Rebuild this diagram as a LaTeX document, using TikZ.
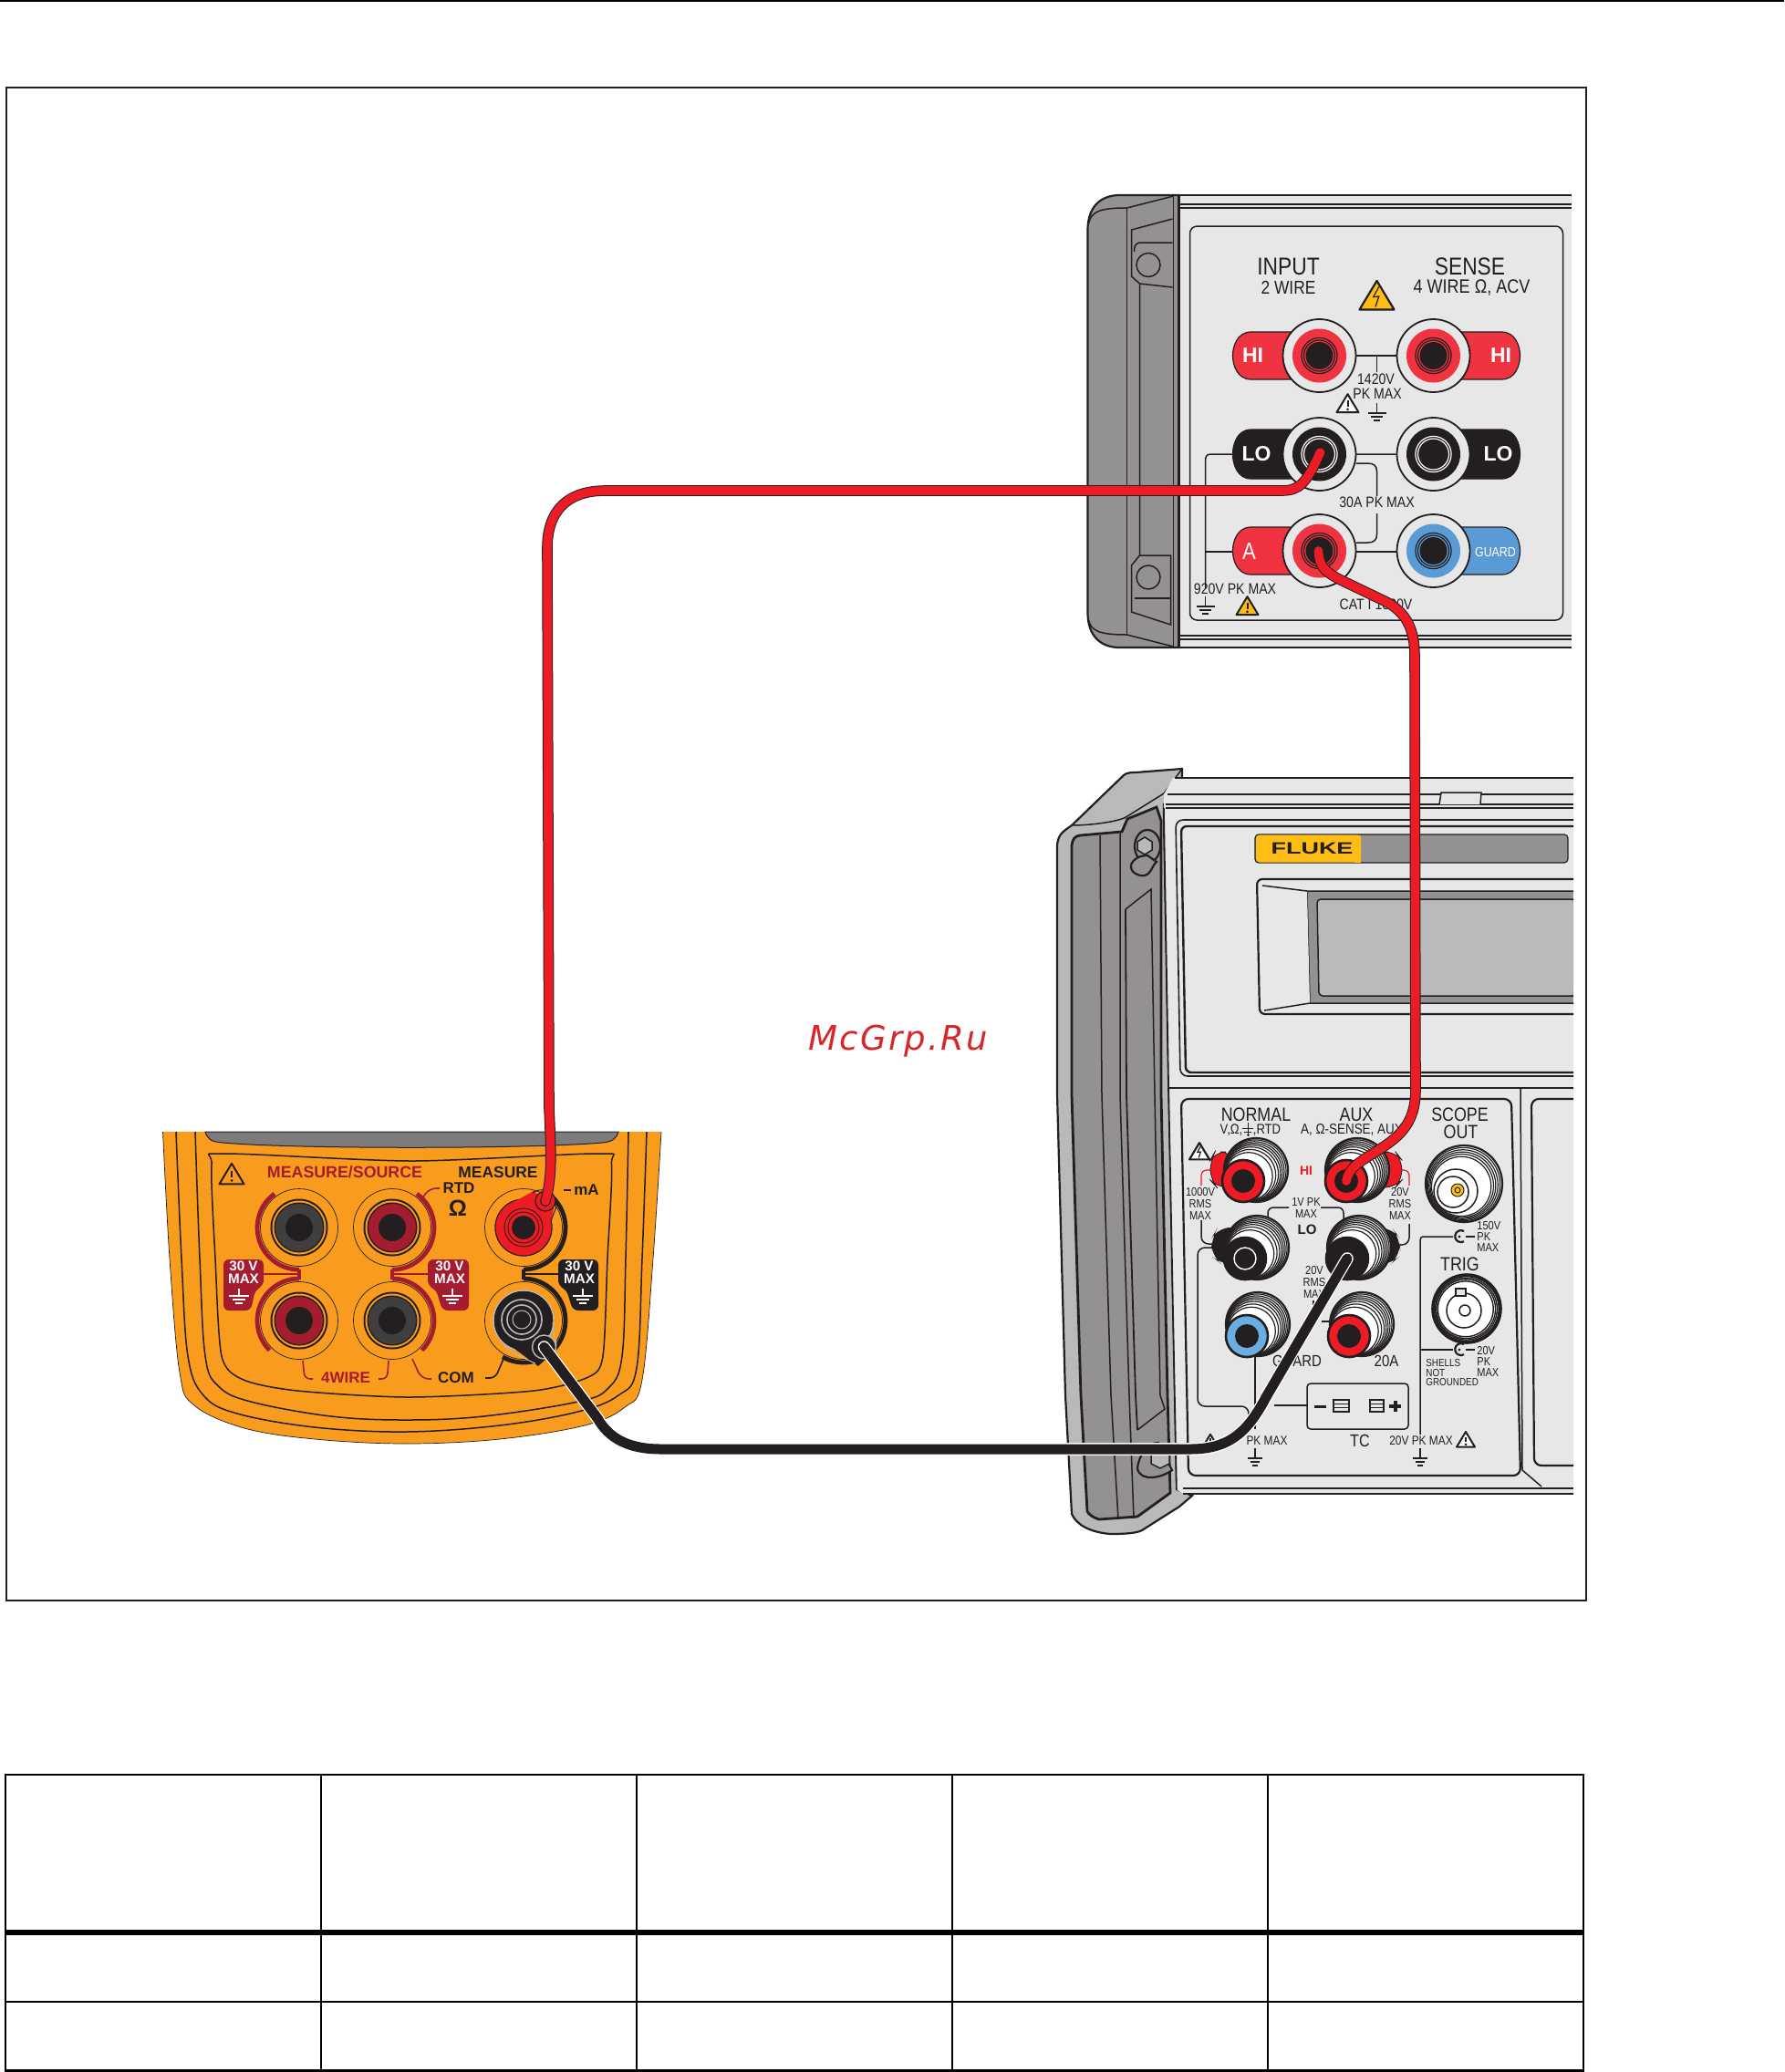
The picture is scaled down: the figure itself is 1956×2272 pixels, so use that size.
\documentclass[tikz,border=0pt]{standalone}
\usepackage{fontspec}
\setmainfont{Liberation Sans}
\newfontfamily\cnd[FakeStretch=0.85]{Liberation Sans}
\newfontfamily\wmk[LetterSpace=6]{DejaVu Sans}
\newfontfamily\wide[FakeStretch=1.5]{Liberation Sans}
\usetikzlibrary{calc}
\definecolor{pg}{HTML}{E7E7E8}
\definecolor{hg}{HTML}{939192}
\definecolor{lg}{HTML}{B9B9B9}
\definecolor{wr}{HTML}{ED1C24}
\definecolor{tr}{HTML}{EF3340}
\definecolor{bk}{HTML}{231F20}
\definecolor{bl}{HTML}{5B9BD5}
\definecolor{bl2}{HTML}{6CADE1}
\definecolor{og}{HTML}{F99B1C}
\definecolor{dr}{HTML}{A51C30}
\definecolor{yl}{HTML}{FDBD14}
\definecolor{dg}{HTML}{403F40}
\newcounter{lc}
\newcommand\lbl[5][bk]{\stepcounter{lc}\node[name=L\arabic{lc},inner sep=0,outer sep=0,align=center,text=#1,font=\cnd\fontsize{#4}{#4}\selectfont] at (#2,#3) {#5};}
\newcommand\lbb[5][bk]{\stepcounter{lc}\node[name=L\arabic{lc},inner sep=0,outer sep=0,align=center,text=#1,font=\rmfamily\bfseries\fontsize{#4}{#4}\selectfont] at (#2,#3) {#5};}
% ground symbol: x, y of top bar, width, colour
\newcommand\gnd[4]{\draw[#4,line width=.65pt] ({#1-#3/2},#2) -- ({#1+#3/2},#2) ({#1-#3*.32},{#2+4}) -- ({#1+#3*.32},{#2+4}) ({#1-#3*.16},{#2+8}) -- ({#1+#3*.16},{#2+8});}
% warning triangle: x,y,width,fill
\newcommand\wtri[4]{\draw[bk,fill=#4,line width=1pt,line join=round] (#1,{#2-#3*.45}) -- ({#1+#3*.5},{#2+#3*.38}) -- ({#1-#3*.5},{#2+#3*.38}) -- cycle;
 \draw[bk,line width=1pt] (#1,{#2-#3*.16}) -- (#1,{#2+#3*.12}); \fill[bk] (#1,{#2+#3*.24}) circle[radius=1.5];}
\newcommand\wshock[4]{\draw[bk,fill=#4,line width=1.1pt,line join=round] (#1,{#2-#3*.45}) -- ({#1+#3*.5},{#2+#3*.38}) -- ({#1-#3*.5},{#2+#3*.38}) -- cycle;
 \draw[bk,line width=.6pt,line join=miter] ({#1+#3*.06},{#2-#3*.28}) -- ({#1-#3*.1},{#2+#3*.02}) -- ({#1+#3*.06},{#2+#3*.0}) -- ({#1-#3*.04},{#2+#3*.3});}
% tab of bench meter: cx cy dir half-height colour
\newcommand\jtab[5]{\draw[bk,fill=#5,line width=.6pt] (#1,{#2-#4}) -- ({#1+#3*75},{#2-#4}) .. controls ({#1+#3*90},{#2-#4}) and ({#1+#3*95},{#2-#4*.4}) .. ({#1+#3*95},#2) .. controls ({#1+#3*95},{#2+#4*.4}) and ({#1+#3*90},{#2+#4}) .. ({#1+#3*75},{#2+#4}) -- (#1,{#2+#4});}
% bench jack: x y face inner-ring colour
\newcommand\mjack[4]{\draw[bk,fill=pg,line width=.9pt] (#1,#2) circle[radius=40];
 \fill[#3] (#1,#2) circle[radius=29.5];
 \draw[#4,line width=.6pt] (#1,#2) circle[radius=19.6] (#1,#2) circle[radius=17];
 \fill[bk] (#1,#2) circle[radius=15];}
% binding post: face x,y body x,y face colour
\newcommand\bpost[5]{\draw[bk,fill=white,line width=1.1pt] (#3,#4) circle[radius=35];
 \foreach \t in {.07,.14,.21,.28,.36,.46,.58}{\draw[bk,fill=white,line width=.6pt] ({#3+(#1-#3)*\t},{#4+(#2-#4)*\t}) circle[radius={35-15*\t}];}
 \draw[bk,fill=#5,line width=1.3pt] (#1,#2) circle[radius=23];}
% handheld jack
\newcommand\ojack[3]{\draw[bk,fill=og,line width=.35pt] (#1,#2) circle[radius=42.5];
 \fill[bk] (#1,#2) circle[radius=31.5]; \fill[og] (#1,#2) circle[radius=29.5];
 \fill[bk] (#1,#2) circle[radius=27.5]; \fill[#3] (#1,#2) circle[radius=26];
 \fill[bk] (#1,#2) circle[radius=15];}
\begin{document}
\begin{tikzpicture}[x=.5pt,y=-.5pt]
\useasboundingbox (0,0) rectangle (1956,2272);
\tikzset{thin1/.style={bk,line width=.5pt},line1/.style={bk,line width=.75pt},thick1/.style={bk,line width=1.1pt}}
% page rule, frame, table
\draw[black,line width=1.1pt] (0,1) -- (1956,1);
\draw[bk,line width=1.25pt] (7,96) rectangle (1739,1755);
\draw[black,line width=1.4pt] (6,1946) rectangle (1736,2270.5);
\draw[black,line width=1.4pt] (6,2195) -- (1736,2195);
\draw[black,line width=2.9pt] (6,2118.7) -- (1736,2118.7);
\foreach \cx in {352,698,1044,1390}{\draw[black,line width=1.4pt] (\cx,1946) -- (\cx,2270.5);}
% ================= top bench meter
\begin{scope}[xshift=.75pt]
\draw[thick1,fill=hg] (1291,214) -- (1226,214) .. controls (1204,214) and (1191,228) .. (1191,252) -- (1191,672) .. controls (1191,696) and (1204,710) .. (1226,710) -- (1291,710) -- cycle;
\draw[line1] (1192,245) .. controls (1195,232) and (1204,228) .. (1234,228) -- (1285,215);
\draw[line1] (1192,680) .. controls (1195,692) and (1204,696) .. (1234,696) -- (1285,709);
\draw[line1] (1234,228) -- (1234,696) (1285,214) -- (1285,710);
\draw[line1] (1284,240) -- (1239,252) -- (1239,303) -- (1248,311) -- (1284,315);
\draw[line1] (1284,266) -- (1250,266) .. controls (1243,266) and (1242,270) .. (1242,276);
\draw[line1] (1248,311) -- (1248,609) -- (1282,609) -- (1282,685) -- (1239,671) -- (1239,620) -- (1248,609);
\draw[line1] (1242,656) -- (1282,656);
\draw[line1] (1257.5,290.5) circle[radius=13];
\draw[line1] (1257.5,633) circle[radius=13];
\fill[pg] (1291,214) rectangle (1721,710);
\draw[thick1] (1291,214) -- (1721,214) (1291,710) -- (1721,710) (1291,214) -- (1291,710);
\draw[line1] (1291,224) -- (1721,224) (1291,228) -- (1721,228) (1291,697) -- (1721,697) (1291,701) -- (1721,701);
\draw[line1,rounded corners=4pt] (1303,248) rectangle (1712,680);
\lbl{1411}{292}{13.4}{INPUT}
\lbl{1411}{315}{10.2}{2 WIRE}
\lbl{1610}{292}{13.4}{SENSE}
\lbl{1612}{315}{10.6}{4 WIRE Ω, ACV}
\wshock{1508}{325}{38}{yl}
% traces
\draw[line1] (1485,390) -- (1530,390) (1508,390) -- (1508,408);
\lbl{1507}{416}{8.3}{1420V}
\lbl{1508.5}{432}{8.3}{PK MAX}
\wtri{1476}{443}{24}{white}
\draw[line1] (1508,442) -- (1508,453); \gnd{1508}{453}{20}{bk}
\draw[line1] (1485,498) -- (1529,498) (1351,498) -- (1326,498) .. controls (1321,498) and (1320,501) .. (1320,506) -- (1320,645);
\draw[line1] (1485,508) -- (1498,508) .. controls (1505,508) and (1508,511) .. (1508,517) -- (1508,544);
\lbl{1508}{551}{8.3}{30A PK MAX}
\draw[line1] (1508,563) -- (1508,586) .. controls (1508,592) and (1505,595) .. (1498,595) -- (1485,595);
\draw[line1] (1485,605) -- (1529,605) (1320,605) -- (1351,605);
\lbl{1352.5}{646}{8.3}{920V PK MAX}
\draw[line1] (1320,654) -- (1320,665); \gnd{1320}{665}{20}{bk}
\wtri{1366}{665}{24}{yl}
\lbl{1507}{663}{8.3}{CAT I 1000V}
% jacks
\jtab{1445}{390}{-1}{26}{tr}
\jtab{1570}{390}{1}{26}{tr}
\jtab{1445}{498}{-1}{27}{bk}
\jtab{1570}{498}{1}{27}{bk}
\jtab{1445}{604}{-1}{26}{tr}
\jtab{1570}{604}{1}{26}{bl}
\mjack{1445}{390}{tr}{bk}
\mjack{1570}{390}{tr}{bk}
\mjack{1445}{498}{bk}{white}
\mjack{1570}{498}{bk}{white}
\mjack{1445}{604}{tr}{bk}
\mjack{1570}{604}{bl}{bk}
\lbb[white]{1372}{390}{11.5}{HI}
\lbb[white]{1644}{390}{11.5}{HI}
\lbb[white]{1376}{498}{11.5}{LO}
\lbb[white]{1641}{498}{11.5}{LO}
\lbl[white]{1368}{605}{13}{A}
\lbl[white]{1638}{605}{7.3}{GUARD}
\coordinate (jackLO) at (1446,496);
\coordinate (jackA) at (1444,604);
\end{scope}
% ================= lower bench meter: handle
\draw[thick1,fill=lg] (1159,927) .. controls (1160,915) and (1165,912) .. (1175,905) -- (1232,850) .. controls (1236,847) and (1240,847) .. (1245,847) -- (1296,843) -- (1296,855) -- (1276,882) -- (1276,900) -- (1281,1180) -- (1290,1633) -- (1307,1640) -- (1293,1652) -- (1252,1678) .. controls (1245,1682) and (1225,1682) .. (1217,1682) .. controls (1195,1680) and (1180,1672) .. (1175,1660) -- (1168,1530) -- (1159,1200) -- cycle;
\draw[line width=1.4pt,bk,fill=hg] (1175,927) .. controls (1176,920) and (1178,917) .. (1184,916) -- (1230,912) -- (1236,898) -- (1268,885) -- (1273,900) -- (1273,1200) -- (1280,1530) -- (1283,1637) -- (1247,1663) -- (1205,1666) .. controls (1198,1664) and (1193,1660) .. (1192,1657) -- (1185,1530) -- (1175,1200) -- cycle;
\draw[line1] (1206,916) -- (1208,1200) -- (1218,1530) -- (1226,1666);
\draw[line1] (1228,914) -- (1228,1200) -- (1238,1530) -- (1243,1665);
\draw[line width=.9pt,bk] (1234,997) -- (1235,1200) -- (1245,1530) -- (1247,1568);
\draw[line1] (1234,997) -- (1262,975) -- (1266,1200) -- (1272,1530) -- (1277,1545) -- (1247,1568);
\draw[line1] (1236,895) -- (1276,870);
\draw[line1] (1174,905) .. controls (1200,905) and (1230,900) .. (1236,895) (1296,843) -- (1276,870);
\draw[thick1,fill=hg] (1258,928) ellipse[x radius=14,y radius=18];
\draw[line1,fill=lg] (1255,918) -- (1263,923) -- (1263,932) -- (1255,937) -- (1247,932) -- (1247,923) -- cycle;
\draw[thick1,fill=hg] (1250,960) .. controls (1262,962) and (1262,950) .. (1268,945) -- (1258,938) .. controls (1240,938) and (1232,955) .. (1250,960);
\draw[thick1,fill=hg] (1247,1610) .. controls (1250,1626) and (1275,1620) .. (1285,1612) -- (1270,1582) .. controls (1255,1582) and (1248,1600) .. (1247,1610);
\draw[line1,fill=lg] (1272,1590) -- (1282,1595) -- (1282,1605) -- (1272,1610) -- (1262,1605) -- (1262,1595) -- cycle;
% body
\fill[pg] (1286,853) -- (1725,853) -- (1725,1638) -- (1297,1638) -- (1290,1633) -- (1281,1180) -- (1276,890) -- (1276,871) -- cycle;
\draw[line1] (1288,853) -- (1725,853) (1280,871) -- (1725,871) (1278,886) -- (1725,886);
\draw[line width=1pt,bk] (1278,882) -- (1725,882);
\draw[line1,fill=pg] (1578,882) -- (1580,869) -- (1624,869) -- (1623,882);
\draw[line1] (1276,886) -- (1281,1180) -- (1290,1633);
\draw[line1] (1281,1193) -- (1725,1193) (1297,1632) -- (1725,1632) (1297,1638) -- (1725,1638);
% display panel
\draw[line width=.8pt,bk,rounded corners=4pt] (1725,899) -- (1289,899) -- (1294,1180) -- (1725,1180);
\draw[line width=1.2pt,bk,rounded corners=3pt] (1725,906) -- (1295,906) -- (1300,1176) -- (1725,1176);
\draw[line width=.6pt,bk,fill=hg,rounded corners=2pt] (1376,915) rectangle (1719,946);
\fill[yl,rounded corners=2pt] (1377,915.5) rectangle (1492,945.5);
\fill[yl] (1485,915.5) rectangle (1492,945.5);
\stepcounter{lc}\node[name=L\arabic{lc},inner sep=0,text=bk,font=\wide\bfseries\fontsize{9}{9}\selectfont] at (1438.5,930) {FLUKE};
\fill[hg] (1433,977) rectangle (1725,1100);
\fill[lg,rounded corners=3pt] (1444,986) -- (1725,986) -- (1725,1092) -- (1446,1092) -- cycle;
\draw[line1,rounded corners=2pt] (1725,986) -- (1444,986) -- (1446,1092) -- (1725,1092);
\draw[line1] (1433,977) -- (1725,977) (1433,977) -- (1436,1100) -- (1725,1100);
\fill[pg] (1384,967) -- (1433,977) -- (1436,1100) -- (1386,1108) -- cycle;
\draw[line1] (1384,971) -- (1433,977) (1386,1108) -- (1436,1100);
\draw[thick1,rounded corners=3pt] (1725,964) -- (1378,964) -- (1381,1112) -- (1725,1112);
% lower panel
\draw[thick1,rounded corners=4pt] (1295,1205) -- (1657,1205) -- (1667,1618) -- (1303,1618) -- cycle;
\draw[line1] (1667,1193) -- (1669,1612) -- (1690,1630);
\draw[thick1,rounded corners=4pt] (1725,1205) -- (1679,1205) -- (1682,1607) -- (1725,1607);
% lower panel labels
\lbl{1377}{1222}{10.5}{NORMAL}
\lbl{1350}{1239}{7.7}{V,Ω,}
\draw[thin1] (1368,1231) -- (1368,1246); \draw[thin1] (1362,1237.5) -- (1374,1237.5) (1364,1241) -- (1372,1241) (1366.5,1244.5) -- (1369.5,1244.5);
\lbl{1389}{1239}{7.7}{,RTD}
\lbl{1487}{1222}{10.5}{AUX}
\lbl{1482}{1239}{7.9}{A, Ω-SENSE, AUX}
\lbl{1600.5}{1222}{10.5}{SCOPE}
\lbl{1601.5}{1241}{10.5}{OUT}
\lbb[wr]{1432}{1284}{7}{HI}
\lbb{1433}{1348}{7.5}{LO}
\lbl{1316}{1320}{6.5}{1000V\\RMS\\MAX}
\lbl{1535}{1320}{6.5}{20V\\RMS\\MAX}
\lbl{1432}{1324.5}{6.5}{1V PK\\MAX}
\lbl{1441}{1406}{6.5}{20V\\RMS\\MAX}
\lbl{1422}{1492}{8.8}{GUARD}
\lbl{1520}{1492}{8.8}{20A}
\lbl{1491}{1580}{9.5}{TC}
\lbl{1389}{1580}{7}{PK MAX}
\lbl{1558}{1580}{7}{20V PK MAX}
\lbl{1600.5}{1386}{10.5}{TRIG}
\stepcounter{lc}\node[name=L\arabic{lc},anchor=west,inner sep=0,align=left,text=bk,font=\cnd\fontsize{6.5}{6.2}\selectfont] at (1619,1356) {150V\\PK\\MAX};
\stepcounter{lc}\node[name=L\arabic{lc},anchor=west,inner sep=0,align=left,text=bk,font=\cnd\fontsize{6.5}{6.2}\selectfont] at (1619,1493) {20V\\PK\\MAX};
\stepcounter{lc}\node[name=L\arabic{lc},anchor=west,inner sep=0,align=left,text=bk,font=\cnd\fontsize{5.8}{5.2}\selectfont] at (1563,1505) {SHELLS\\NOT\\GROUNDED};
% traces
\draw[wr,line width=.6pt,rounded corners=3pt] (1317,1300) -- (1317,1283) -- (1330,1283);
\draw[wr,line width=.6pt,rounded corners=3pt] (1545,1300) -- (1545,1283) -- (1530,1283);
\draw[line1,rounded corners=4pt] (1317,1338) -- (1317,1364) -- (1332,1364);
\draw[line1,rounded corners=4pt] (1545,1342) -- (1545,1365) -- (1530,1365);
\draw[line1,rounded corners=3pt] (1390,1336) -- (1390,1324) -- (1413,1324);
\draw[line1,rounded corners=3pt] (1448,1324) -- (1473,1324) -- (1473,1338);
\draw[line1] (1449,1449) -- (1460,1449);
\draw[line1] (1440,1426) -- (1440,1436);
\draw[line1,rounded corners=4pt] (1330,1368) -- (1313,1368) -- (1313,1542) -- (1369,1542) -- (1369,1568);
\draw[line1] (1376,1486) -- (1376,1567) (1376,1588) -- (1376,1599);
\gnd{1376}{1599}{16}{bk}
\draw[line1] (1397,1541) -- (1433,1541);
\draw[line1,rounded corners=2pt] (1433,1517) rectangle (1544,1567);
\fill[bk] (1441,1540.5) rectangle (1454,1543.5);
\draw[line1] (1462,1535) rectangle (1479,1548) (1462,1539.5) -- (1479,1539.5) (1462,1543.5) -- (1479,1543.5);
\draw[line1] (1502,1535) rectangle (1517,1548) (1502,1539.5) -- (1517,1539.5) (1502,1543.5) -- (1517,1543.5);
\draw[bk,line width=2pt] (1523,1542) -- (1536,1542) (1529.5,1536) -- (1529.5,1548);
\draw[line1] (1557,1573) -- (1557,1360) .. controls (1557,1357) and (1558,1356) .. (1562,1356) -- (1593,1356);
\draw[line1] (1557,1480) -- (1593,1480) (1607,1356) -- (1617,1356) (1607,1480) -- (1617,1480);
\draw[line1] (1557,1588) -- (1557,1599); \gnd{1557}{1599}{16}{bk}
\draw[thick1] (1605,1350) arc[start angle=300,end angle=60,radius=6.5];
\draw[thick1] (1605,1474) arc[start angle=300,end angle=60,radius=6.5];
\fill[bk] (1600,1356) circle[radius=1.6] (1600,1480) circle[radius=1.6];
\wtri{1607}{1579}{20}{white}
\wshock{1315}{1263}{22}{white}
\wtri{1327}{1580}{16}{white}
% posts
\draw[bk,fill=wr,line width=.4pt,rounded corners=6pt] (1350,1263) -- (1332,1263) -- (1327,1272) -- (1327,1294) -- (1334,1302) -- (1360,1302) -- cycle;
\draw[bk,fill=wr,line width=.4pt,rounded corners=6pt] (1510,1263) -- (1530,1263) -- (1537,1272) -- (1537,1294) -- (1530,1302) -- (1500,1302) -- cycle;
\fill[bk,rounded corners=7pt] (1360,1346) -- (1335,1346) -- (1328,1358) -- (1328,1377) -- (1340,1387) -- (1370,1387) -- cycle;
\fill[bk,rounded corners=7pt] (1500,1346) -- (1526,1346) -- (1535,1358) -- (1535,1377) -- (1524,1387) -- (1490,1387) -- cycle;
\bpost{1363}{1295}{1377}{1283}{wr}
\fill[bk] (1363,1295) circle[radius=13];
\bpost{1476}{1295}{1488}{1283}{wr}
\fill[bk] (1476,1295) circle[radius=13];
\bpost{1365}{1380}{1378}{1368}{bk}
\draw[white,line width=.7pt] (1365,1380) circle[radius=12];
\bpost{1477}{1380}{1490}{1368}{bk}
\bpost{1367}{1465}{1379}{1452}{bl2}
\fill[bk] (1367,1465) circle[radius=13];
\bpost{1479}{1465}{1493}{1452}{wr}
\fill[bk] (1479,1465) circle[radius=13];
% BNCs
\draw[bk,fill=white,line width=1.1pt] (1605,1298) circle[radius=42];
\foreach \t in {.07,.14,.21,.28,.36}{\draw[bk,fill=white,line width=.6pt] ({1605-8*\t},{1298+8*\t}) circle[radius={42-26*\t}];}
\draw[line1] (1596,1306) circle[radius=24];
\draw[line1] (1593,1307) circle[radius=17];
\draw[bk,fill=yl,line width=.5pt] (1598,1305) circle[radius=7];
\draw[bk,line width=.5pt] (1598,1305) circle[radius=3];
\draw[bk,fill=white,line width=1.8pt] (1608,1435) circle[radius=37];
\foreach \t in {.07,.14,.21,.3}{\draw[bk,fill=white,line width=.7pt] ({1608-4*\t},{1435+1*\t}) circle[radius={37-22*\t}];}
\draw[line1] (1605,1437) circle[radius=19];
\draw[line1] (1606,1437) circle[radius=6];
\draw[line1,fill=pg] (1596,1413) rectangle (1607,1421);
\coordinate (postAUX) at (1476,1295);
\coordinate (postLO) at (1477,1380);
% ================= handheld meter
\fill[og] plot[smooth,tension=.6] coordinates {(178.5,1241) (186,1380) (197,1505) (213,1541) (268,1566) (345,1578) (445,1583) (548,1578) (641,1563) (685,1543) (704,1513) (716,1380) (725,1241)} -- cycle;
\draw[bk,line width=.35pt] plot[smooth,tension=.6] coordinates {(178.5,1241) (186,1380) (197,1505) (213,1541) (268,1566) (345,1578) (445,1583) (548,1578) (641,1563) (685,1543) (704,1513) (716,1380) (725,1241)};
\draw[line1] plot[smooth,tension=.6] coordinates {(193,1241) (199,1380) (206,1487) (223,1530) (260,1550) (345,1565) (445,1570) (548,1563) (633.5,1548) (678,1530) (698,1500) (704,1380) (709,1241)};
\draw[line1] plot[smooth,tension=.6] coordinates {(214,1241) (219,1380) (225,1487) (239.5,1520) (275,1537) (363,1553) (445,1557) (530,1553) (633.5,1537) (667,1522) (682,1487) (686,1380) (689,1241)};
\draw[bk,fill=hg!85!black,line width=.5pt] (225,1241) .. controls (228,1250) and (232,1252) .. (245,1253) .. controls (320,1260) and (580,1260) .. (660,1253) .. controls (672,1252) and (676,1248) .. (678,1241) -- cycle;
\draw[line1] plot[smooth cycle,tension=.45] coordinates {(232,1277) (245,1265) (452,1273) (656,1265) (670.5,1277) (666,1380) (661,1487) (645,1510) (585,1525) (448.6,1532) (326,1525) (267,1513) (243,1487) (236,1380)};
\wtri{254}{1288}{27}{og}
% arcs behind jacks
\draw[dr,line width=2.4pt] (301,1309) arc[start angle=234,end angle=90,radius=46];
\draw[dr,line width=2.4pt] (328,1402) arc[start angle=270,end angle=135,radius=46];
\draw[dr,line width=2.4pt] (457,1309) arc[start angle=-54,end angle=90,radius=46];
\draw[dr,line width=2.4pt] (430,1402) arc[start angle=270,end angle=405,radius=46];
\draw[bk,line width=2.4pt] (574,1392) arc[start angle=90,end angle=-45,radius=46];
\draw[bk,line width=2.4pt] (574,1402) arc[start angle=270,end angle=405,radius=46] arc[start angle=45,end angle=120,radius=46];
\draw[dr,line width=2.4pt] (328,1392) -- (328,1403) (430,1392) -- (430,1403);
\draw[bk,line width=2.4pt] (574,1392) -- (574,1403);
\ojack{328}{1346}{dg}
\ojack{430}{1346}{dr}
\ojack{328}{1448}{dr}
\ojack{430}{1448}{dg}
\ojack{574}{1346}{wr}
\ojack{574}{1448}{bk}
% lines
\draw[dr,line width=.8pt,rounded corners=3pt] (289,1397) -- (328,1397);
\draw[dr,line width=.8pt,rounded corners=3pt] (469,1397) -- (430,1397);
\draw[bk,line width=.8pt] (612,1397) -- (574,1397);
\draw[dr,line width=.8pt,rounded corners=4pt] (461,1318) -- (470,1303) -- (482,1303);
\draw[dr,line width=.8pt,rounded corners=4pt] (452,1490) -- (462,1512) -- (473,1512);
\draw[dr,line width=.8pt,rounded corners=3pt] (332,1492) -- (334,1512) -- (343,1512);
\draw[dr,line width=.8pt,rounded corners=3pt] (426,1492) -- (424.5,1512) -- (415,1512);
\draw[bk,line width=.8pt,rounded corners=3pt] (552,1490) -- (543,1511) -- (532,1511);
\draw[bk,line width=.8pt] (618,1305) -- (626,1305);
% badges
\fill[dr,rounded corners=3pt] (245,1381) -- (289,1381) -- (289,1410) -- (280,1414) -- (275,1437) -- (245,1437) -- cycle;
\fill[dr,rounded corners=3pt] (469,1381) -- (514,1381) -- (514,1437) -- (485,1437) -- (478,1414) -- (469,1410) -- cycle;
\fill[bk,rounded corners=3pt] (612,1381) -- (656,1381) -- (656,1437) -- (628,1437) -- (621,1414) -- (612,1410) -- cycle;
\lbb[white]{267}{1395.5}{7.6}{30 V\\[-.6pt]MAX}
\lbb[white]{493}{1395.5}{7.6}{30 V\\[-.6pt]MAX}
\lbb[white]{635}{1395.5}{7.6}{30 V\\[-.6pt]MAX}
\draw[white,line width=.6pt] (262,1413) -- (262,1421); \gnd{262}{1421}{22}{white}
\draw[white,line width=.6pt] (496,1413) -- (496,1421); \gnd{496}{1421}{22}{white}
\draw[white,line width=.6pt] (639,1413) -- (639,1421); \gnd{639}{1421}{22}{white}
\lbb[dr]{378}{1285}{8.9}{MEASURE/SOURCE}
\lbb{546}{1285}{8.7}{MEASURE}
\lbb{503}{1303}{8.5}{RTD}
\lbb{502}{1325}{12.5}{Ω}
\lbb{643}{1305}{8.5}{mA}
\lbb[dr]{379}{1511}{8.5}{4WIRE}
\lbb{500}{1511}{8.5}{COM}
% plug boots
\draw[bk,fill=wr,line width=.5pt] (574,1346) circle[radius=31];
\fill[wr] (556,1322) -- (585,1306) -- (607,1325) -- (600,1360) -- cycle;
\draw[bk,line width=.5pt] (584,1308) .. controls (590,1303) and (605,1303) .. (609,1315) .. controls (612,1325) and (606,1330) .. (604,1340);
\draw[bk,fill=wr,line width=.6pt] (598,1317) circle[radius=11];
\draw[bk,line width=.45pt] (574,1346) circle[radius=21];
\draw[bk,line width=.45pt] (574,1346) circle[radius=17];
\fill[bk] (574,1346) circle[radius=13];
\draw[lg,fill=bk,line width=.7pt] (574,1448) circle[radius=33];
\fill[bk] (574,1448) circle[radius=32];
\fill[bk] (552,1470) -- (590,1462) -- (610,1480) -- (590,1498) -- cycle;
\draw[lg,line width=.5pt] (552,1475) .. controls (565,1485) and (580,1492) .. (587,1495);
\draw[lg,line width=.5pt] (606,1450) .. controls (606,1462) and (610,1468) .. (610,1476);
\draw[lg,line width=.8pt] (572,1447) circle[radius=22] (572,1447) circle[radius=16];
\draw[lg,line width=.5pt] (572,1447) circle[radius=10];
\draw[lg,fill=bk,line width=.7pt] (596.5,1477) circle[radius=13];
\coordinate (plugmA) at (598,1317);
\coordinate (plugCOM) at (596.5,1477);
% ================= wires
\path[draw=white,line width=6.8pt,line cap=round] (plugCOM) -- (655,1555) .. controls (668,1578) and (690,1589) .. (725,1589) -- (1305,1589) .. controls (1348,1589) and (1368,1570) .. (1388,1532) -- (postLO);
\path[draw=bk,line width=5.5pt,line cap=round] (plugCOM) -- (655,1555) .. controls (668,1578) and (690,1589) .. (725,1589) -- (1305,1589) .. controls (1348,1589) and (1368,1570) .. (1388,1532) -- (postLO);
\def\wireone{(plugmA) .. controls (606,1290) and (604,1260) .. (602,1215) -- (600,601) .. controls (600,560) and (622,538) .. (664,538) -- (1405,538) .. controls (1425,538) and (1432,530) .. (jackLO)}
\def\wiretwo{(jackA) .. controls (1446,620) and (1452,627) .. (1470,636) -- (1520,660) .. controls (1542,672) and (1551,690) .. (1551,720) -- (1552,1195) .. controls (1552,1240) and (1525,1252) .. (1497,1270) .. controls (1485,1278) and (1478,1284) .. (postAUX)}
\draw[bk,line width=5.8pt,line cap=round] \wireone;
\draw[wr,line width=4.8pt,line cap=round] \wireone;
\draw[bk,line width=5.8pt,line cap=round] \wiretwo;
\draw[wr,line width=4.8pt,line cap=round] \wiretwo;
% watermark
\stepcounter{lc}\node[name=L\arabic{lc},anchor=base,inner sep=0,text={rgb,255:red,217;green,38;blue,42},font=\wmk\itshape\fontsize{18.5}{18.5}\selectfont] at (984.5,1151) {McGrp.Ru};
\end{tikzpicture}
\end{document}
